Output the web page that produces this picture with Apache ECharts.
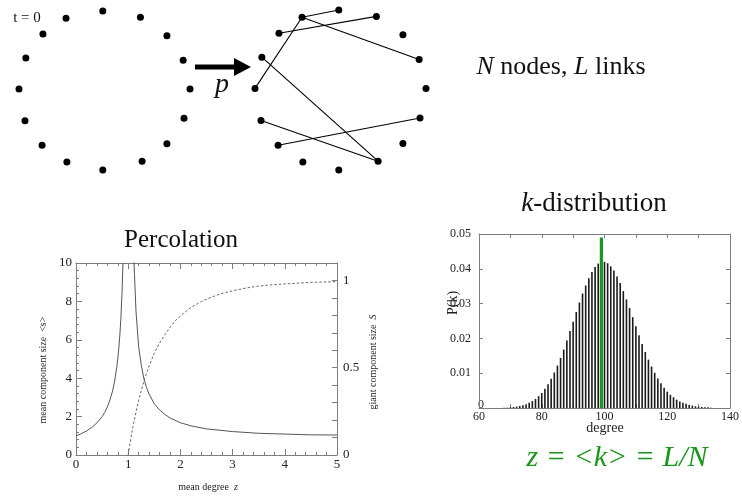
<!DOCTYPE html>
<html><head><meta charset="utf-8">
<script src="https://cdn.jsdelivr.net/npm/echarts@6/dist/echarts.min.js"></script>
<style>html,body{margin:0;padding:0;background:#fff}#c{width:742px;height:496px}</style>
</head><body><div id="c"></div>
<script>
// ---- Network ring (node positions in ring units, x right / y up) ----
const nodeX = [1.00, 0.92, 0.73, 0.42, -0.02, -0.45, -0.72, -0.92, -1.00, -0.93, -0.73, -0.44, -0.02, 0.44, 0.73, 0.93];
const nodeY = [0.02, 0.38, 0.69, 0.92, 1.00, 0.91, 0.71, 0.41, 0.02, -0.38, -0.69, -0.90, -1.00, -0.89, -0.67, -0.35];
const linkSource = [5, 6, 5, 5, 7, 9, 10];
const linkTarget = [4, 3, 1, 8, 13, 13, 15];

// ---- Percolation ----
const sBelowZ   = [0, 0.1, 0.2, 0.3, 0.4, 0.5, 0.55, 0.6, 0.65, 0.7, 0.74, 0.78, 0.8, 0.82, 0.84, 0.86, 0.88, 0.9];
const sBelowVal = [1.00, 1.11, 1.25, 1.43, 1.67, 2.00, 2.22, 2.50, 2.86, 3.33, 3.85, 4.55, 5.00, 5.56, 6.25, 7.14, 8.33, 10.0];
const sAboveZ   = [1.105, 1.12, 1.15, 1.2, 1.25, 1.3, 1.35, 1.4, 1.5, 1.6, 1.7, 1.8, 2.0, 2.2, 2.5, 3.0, 3.5, 4.0, 4.5, 5.0];
const sAboveVal = [10.5, 9.41, 7.46, 5.65, 4.69, 3.98, 3.52, 3.17, 2.67, 2.35, 2.12, 1.93, 1.68, 1.52, 1.36, 1.22, 1.13, 1.09, 1.05, 1.04];
const giantZ = [1.0, 1.02, 1.05, 1.1, 1.15, 1.2, 1.3, 1.4, 1.5, 1.6, 1.7, 1.8, 1.9, 2.0, 2.2, 2.4, 2.6, 2.8, 3.0, 3.25, 3.5, 3.75, 4.0, 4.5, 5.0];
const giantS = [0, 0.039, 0.093, 0.176, 0.247, 0.314, 0.424, 0.511, 0.583, 0.641, 0.689, 0.732, 0.768, 0.797, 0.845, 0.879, 0.905, 0.926, 0.941, 0.956, 0.968, 0.975, 0.980, 0.989, 0.993];

// ---- k-distribution ----
const degrees = [68,69,70,71,72,73,74,75,76,77,78,79,80,81,82,83,84,85,86,87,88,89,90,91,92,93,94,95,96,97,98,99,100,
  101,102,103,104,105,106,107,108,109,110,111,112,113,114,115,116,117,118,119,120,121,122,123,124,125,126,127,128,129,130,131,132,133,134];
const probs = [0.0001,0.0001,0.0002,0.0003,0.0004,0.0006,0.0008,0.0011,0.0015,0.0020,0.0026,0.0034,0.0043,0.0055,0.0068,0.0084,0.0102,
  0.0122,0.0144,0.0168,0.0194,0.0221,0.0248,0.0276,0.0303,0.0329,0.0352,0.0373,0.0391,0.0405,0.0415,0.0420,0.0420,
  0.0416,0.0407,0.0395,0.0378,0.0359,0.0336,0.0312,0.0287,0.0261,0.0235,0.0209,0.0184,0.0161,0.0139,0.0119,0.0101,
  0.0085,0.0071,0.0058,0.0047,0.0038,0.0031,0.0024,0.0019,0.0015,0.0012,0.0009,0.0007,0.0005,0.0004,0.0003,0.0002,0.0002,0.0001];
const meanDegree = [99];
const meanMarkerHeight = [0.049];

const serif = "'Liberation Serif','Times New Roman',serif";
const frame = '#7d7d7d';
const green = '#1a961a';

function axis(base, extra) {
  const o = Object.assign({
    type: 'value', splitLine: {show: false},
    axisLine: {show: true, onZero: false, lineStyle: {color: frame, width: 1}},
    axisTick: {show: true, inside: true, length: 6, lineStyle: {color: frame}},
    axisLabel: {fontFamily: serif, fontSize: 13, color: '#222'}
  }, base);
  if (extra) {
    for (const k in extra) o[k] = Object.assign({}, o[k] || {}, extra[k]);
  }
  return o;
}
const hidden = (g) => ({type: 'value', gridIndex: g, min: -1, max: 1, show: false});

const nodes = nodeX.map((x, i) => [x, nodeY[i]]);
const links = linkSource.map((s, i) => ({source: s, target: linkTarget[i]}));

const option = {
  animation: false,
  grid: [
    {left: 19, top: 11, width: 171, height: 159},
    {left: 255, top: 10, width: 171, height: 160},
    {left: 76, top: 263, width: 261, height: 192},
    {left: 479, top: 234, width: 253, height: 174}
  ],
  xAxis: [
    hidden(0), hidden(1),
    axis({gridIndex: 2, min: 0, max: 5, interval: 1, position: 'bottom',
      minorTick: {show: true, splitNumber: 5, length: 3, lineStyle: {color: frame}}},
      {axisLabel: {margin: 3}}),
    axis({gridIndex: 2, min: 0, max: 5, interval: 1, position: 'top',
      minorTick: {show: true, splitNumber: 5, length: 3, lineStyle: {color: frame}}},
      {axisLabel: {show: false}}),
    axis({gridIndex: 3, min: 60, max: 140, interval: 10, position: 'bottom'},
      {axisTick: {length: 4}, axisLabel: {fontSize: 12, margin: 3, formatter: v => (v % 20 === 0 ? String(v) : '')}}),
    axis({gridIndex: 3, min: 60, max: 140, interval: 10, position: 'top'},
      {axisTick: {length: 4}, axisLabel: {show: false}})
  ],
  yAxis: [
    hidden(0), hidden(1),
    axis({gridIndex: 2, min: 0, max: 10, interval: 2, position: 'left',
      minorTick: {show: true, splitNumber: 5, length: 3, lineStyle: {color: frame}}},
      {axisLabel: {margin: 4}}),
    axis({gridIndex: 2, min: 0, max: 1.1, interval: 0.1, position: 'right'},
      {axisTick: {length: 5}, axisLabel: {margin: 6, formatter: v => (Math.abs(v) < 1e-9 ? '0' : Math.abs(v - 0.5) < 1e-9 ? '0.5' : Math.abs(v - 1) < 1e-9 ? '1' : '')}}),
    axis({gridIndex: 3, min: 0, max: 0.05, interval: 0.01, position: 'left'},
      {axisTick: {length: 4}, axisLabel: {fontSize: 12, margin: 8, formatter: v => (Math.abs(v) < 1e-9 ? '' : v.toFixed(2))}}),
    axis({gridIndex: 3, min: 0, max: 0.05, interval: 0.01, position: 'right'},
      {axisTick: {length: 4}, axisLabel: {show: false}})
  ],
  series: [
    {type: 'scatter', xAxisIndex: 0, yAxisIndex: 0, symbolSize: 7, clip: false, silent: true,
      itemStyle: {color: '#000', opacity: 1}, data: nodes},
    {type: 'graph', coordinateSystem: 'cartesian2d', xAxisIndex: 1, yAxisIndex: 1, silent: true,
      symbol: 'circle', symbolSize: 7, itemStyle: {color: '#000', opacity: 1}, label: {show: false},
      lineStyle: {color: '#000', width: 1.1, opacity: 1, curveness: 0},
      data: nodes, links: links},
    {type: 'line', xAxisIndex: 2, yAxisIndex: 2, showSymbol: false, silent: true,
      lineStyle: {color: '#555', width: 1}, data: sBelowZ.map((z, i) => [z, sBelowVal[i]])},
    {type: 'line', xAxisIndex: 2, yAxisIndex: 2, showSymbol: false, silent: true,
      lineStyle: {color: '#555', width: 1}, data: sAboveZ.map((z, i) => [z, sAboveVal[i]])},
    {type: 'line', xAxisIndex: 2, yAxisIndex: 3, showSymbol: false, silent: true,
      lineStyle: {color: '#666', width: 1, type: [2.5, 2]}, data: giantZ.map((z, i) => [z, giantS[i]])},
    {type: 'bar', xAxisIndex: 4, yAxisIndex: 4, barWidth: 1.6, silent: true,
      itemStyle: {color: '#1a1a1a'}, data: degrees.map((d, i) => [d, probs[i]])},
    {type: 'line', xAxisIndex: 4, yAxisIndex: 4, showSymbol: false, silent: true,
      lineStyle: {color: green, width: 3.2},
      data: [[meanDegree[0], 0], [meanDegree[0], meanMarkerHeight[0]]]}
  ],
  graphic: [
    {type: 'text', x: 27, y: 18, style: {text: 't = 0', font: '15px ' + serif, fill: '#111', align: 'center', verticalAlign: 'middle'}},
    {type: 'rect', shape: {x: 195, y: 64.5, width: 42, height: 5}, style: {fill: '#000'}},
    {type: 'polygon', shape: {points: [[234, 58], [251, 67], [234, 76]]}, style: {fill: '#000'}},
    {type: 'text', x: 222, y: 85, style: {text: 'p', font: 'italic 28px ' + serif, fill: '#111', align: 'center', verticalAlign: 'middle'}},
    {type: 'text', x: 561, y: 67, style: {
      text: '{i|N} nodes, {i|L} links', font: '26px ' + serif, fill: '#111', align: 'center', verticalAlign: 'middle',
      rich: {i: {fontStyle: 'italic', fontFamily: serif, fontSize: 26, fill: '#111'}}}},
    {type: 'text', x: 181, y: 240, style: {text: 'Percolation', font: '25px ' + serif, fill: '#111', align: 'center', verticalAlign: 'middle'}},
    {type: 'text', x: 594, y: 204, style: {
      text: '{i|k}-distribution', font: '27px ' + serif, fill: '#111', align: 'center', verticalAlign: 'middle',
      rich: {i: {fontStyle: 'italic', fontFamily: serif, fontSize: 27, fill: '#111'}}}},
    {type: 'text', x: 617, y: 458, style: {
      text: 'z = <k> = L/N', font: 'italic 30px ' + serif, fill: green, align: 'center', verticalAlign: 'middle'}},
    {type: 'text', x: 43, y: 370, rotation: Math.PI / 2, style: {
      text: 'mean component size  <s>', font: '10px ' + serif, fill: '#222', align: 'center', verticalAlign: 'middle'}},
    {type: 'text', x: 373, y: 362, rotation: Math.PI / 2, style: {
      text: 'giant component size  {i|S}', font: '10px ' + serif, fill: '#222', align: 'center', verticalAlign: 'middle',
      rich: {i: {fontStyle: 'italic', fontFamily: serif, fontSize: 10, fill: '#222'}}}},
    {type: 'text', x: 208, y: 487, style: {
      text: 'mean degree  {i|z}', font: '10px ' + serif, fill: '#222', align: 'center', verticalAlign: 'middle',
      rich: {i: {fontStyle: 'italic', fontFamily: serif, fontSize: 10, fill: '#222'}}}},
    {type: 'text', x: 453, y: 303, rotation: Math.PI / 2, style: {
      text: 'P(k)', font: '14px ' + serif, fill: '#222', align: 'center', verticalAlign: 'middle'}},
    {type: 'text', x: 605, y: 428, style: {text: 'degree', font: '14px ' + serif, fill: '#222', align: 'center', verticalAlign: 'middle'}},
    {type: 'text', x: 481, y: 405, style: {text: '0', font: '12px ' + serif, fill: '#222', align: 'center', verticalAlign: 'middle'}}
  ]
};
const chart = echarts.init(document.getElementById('c'), null, {renderer: 'canvas'});
chart.setOption(option);
</script>
</body></html>
